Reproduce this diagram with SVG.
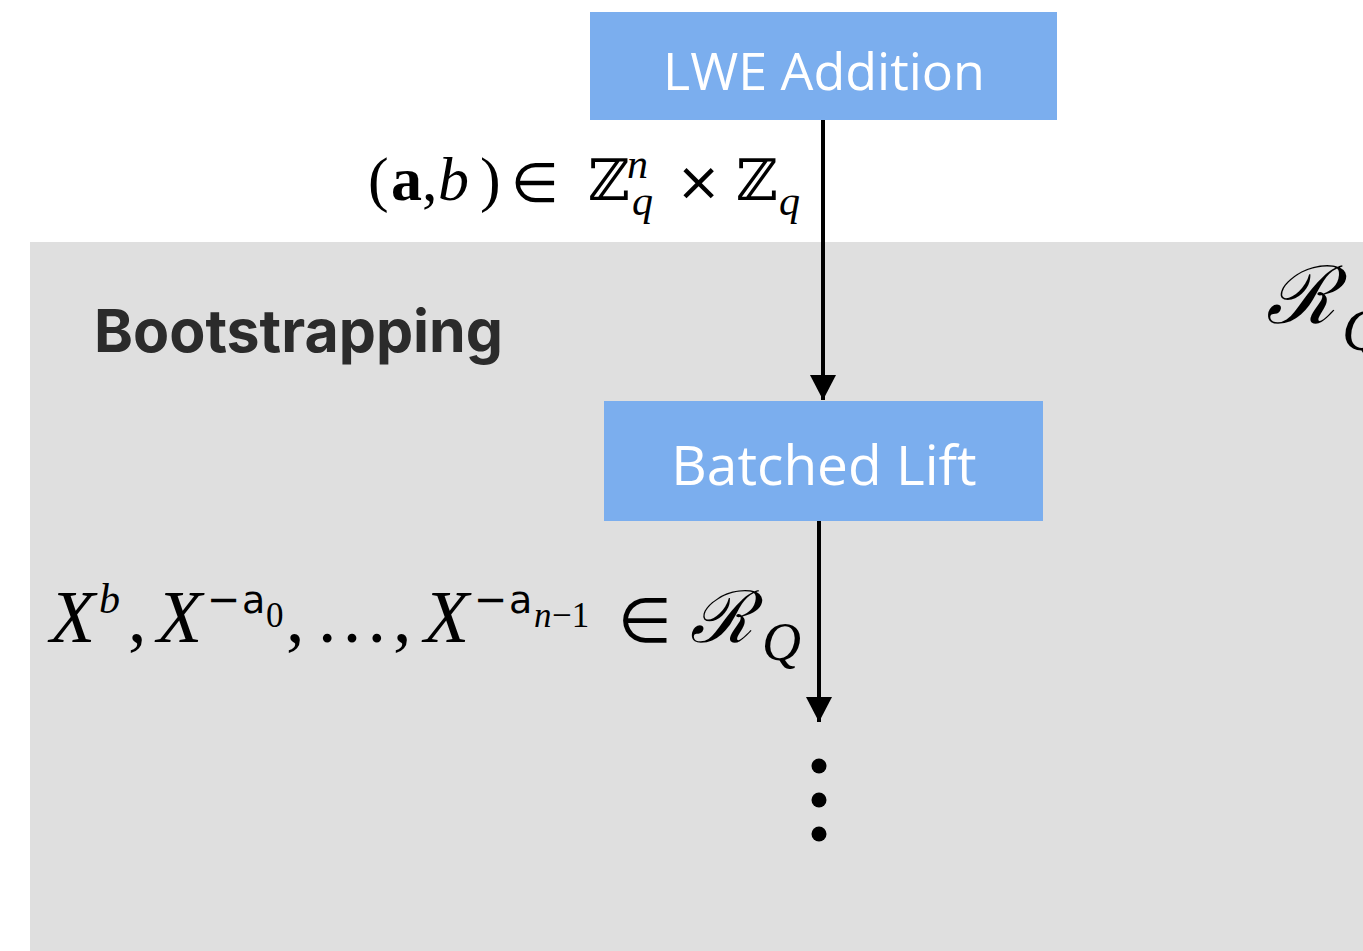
<svg xmlns="http://www.w3.org/2000/svg" width="1363" height="951" viewBox="0 0 1363 951">
<style>
.box{fill:#7baeee}
.btxt{fill:#ffffff;font-family:"Open Sans","Liberation Sans",sans-serif;font-weight:400;text-anchor:middle}
.math{font-family:"Liberation Serif","DejaVu Serif",serif;fill:#000}
.it{font-style:italic}
.sym{font-family:"DejaVu Sans",sans-serif;font-style:normal}
.dbl{font-family:"DejaVu Serif",serif;font-style:normal}
.scr{font-family:"DejaVu Serif",serif;font-style:italic}
.conn{stroke:#000;stroke-width:4;fill:none}
</style>
<defs>
<marker id="ah" markerWidth="26" markerHeight="26" refX="25" refY="13" orient="auto" markerUnits="userSpaceOnUse">
<path d="M0,0 L25,13 L0,26 Z" fill="#000"/>
</marker>
</defs>
<rect x="0" y="0" width="1363" height="951" fill="#ffffff"/>
<g id="bootstrapping-region">
<rect x="30" y="242" width="1333" height="709" fill="#dfdfdf"/>
<text x="94" y="352" font-family="Inter,'Liberation Sans',sans-serif" font-weight="700" font-size="59" fill="#2b2b2b">Bootstrapping</text>
</g>
<g id="lwe-addition">
<rect class="box" x="590" y="12" width="467" height="108"/>
<text class="btxt" x="824" y="90" font-size="52">LWE Addition</text>
</g>
<g id="batched-lift">
<rect class="box" x="604" y="401" width="439" height="120"/>
<text class="btxt" x="824" y="485" font-size="55">Batched Lift</text>
</g>
<g id="connectors">
<line class="conn" x1="823" y1="120" x2="823" y2="400" marker-end="url(#ah)"/>
<line class="conn" x1="819" y1="521" x2="819" y2="722" marker-end="url(#ah)"/>
</g>
<g id="ellipsis">
<circle cx="819" cy="766" r="7.5" fill="#000"/>
<circle cx="819" cy="800" r="7.5" fill="#000"/>
<circle cx="819" cy="834" r="7.5" fill="#000"/>
</g>
<g id="label-lwe">
<text class="math" font-size="62"><tspan x="368" y="200">(</tspan><tspan x="391" y="200" font-weight="700">a</tspan><tspan x="422" y="200">,</tspan><tspan x="438" y="200" class="it">b</tspan><tspan x="480" y="200">)</tspan><tspan x="511" y="202" class="sym" font-size="55">∈</tspan><tspan x="588" y="200" class="dbl" font-size="57">ℤ</tspan><tspan x="627" y="178" class="it" font-size="42">n</tspan><tspan x="632" y="215" class="it" font-size="42">q</tspan><tspan x="676" y="200" class="sym" font-size="54">×</tspan><tspan x="736" y="200" class="dbl" font-size="57">ℤ</tspan><tspan x="779" y="215" class="it" font-size="42">q</tspan></text>
</g>
<g id="label-lift">
<text class="math" font-size="74"><tspan x="50" y="642" class="it">X</tspan><tspan x="99" y="613" class="it" font-size="42">b</tspan><tspan x="128" y="642">,</tspan><tspan x="157" y="642" class="it">X</tspan><tspan x="207" y="613" class="sym" font-size="40">−</tspan><tspan x="242" y="613" class="sym" font-size="38">a</tspan><tspan x="266" y="627" font-size="35">0</tspan><tspan x="286" y="642">,</tspan><tspan x="315" y="642">…</tspan><tspan x="393" y="642">,</tspan><tspan x="424" y="642" class="it">X</tspan><tspan x="474" y="613" class="sym" font-size="40">−</tspan><tspan x="509" y="613" class="sym" font-size="38">a</tspan><tspan x="534" y="627" class="it" font-size="35">n</tspan><tspan x="552" y="627" font-size="35">−1</tspan><tspan x="618" y="642" class="sym" font-size="62">∈</tspan><tspan x="690" y="642" class="scr" font-size="72">ℛ</tspan><tspan x="762" y="660" class="it" font-size="54">Q</tspan></text>
</g>
<g id="label-right">
<text class="math"><tspan x="1266" y="323" class="scr" font-size="80">ℛ</tspan><tspan x="1342" y="350" class="it" font-size="60">Q</tspan></text>
</g>
</svg>
